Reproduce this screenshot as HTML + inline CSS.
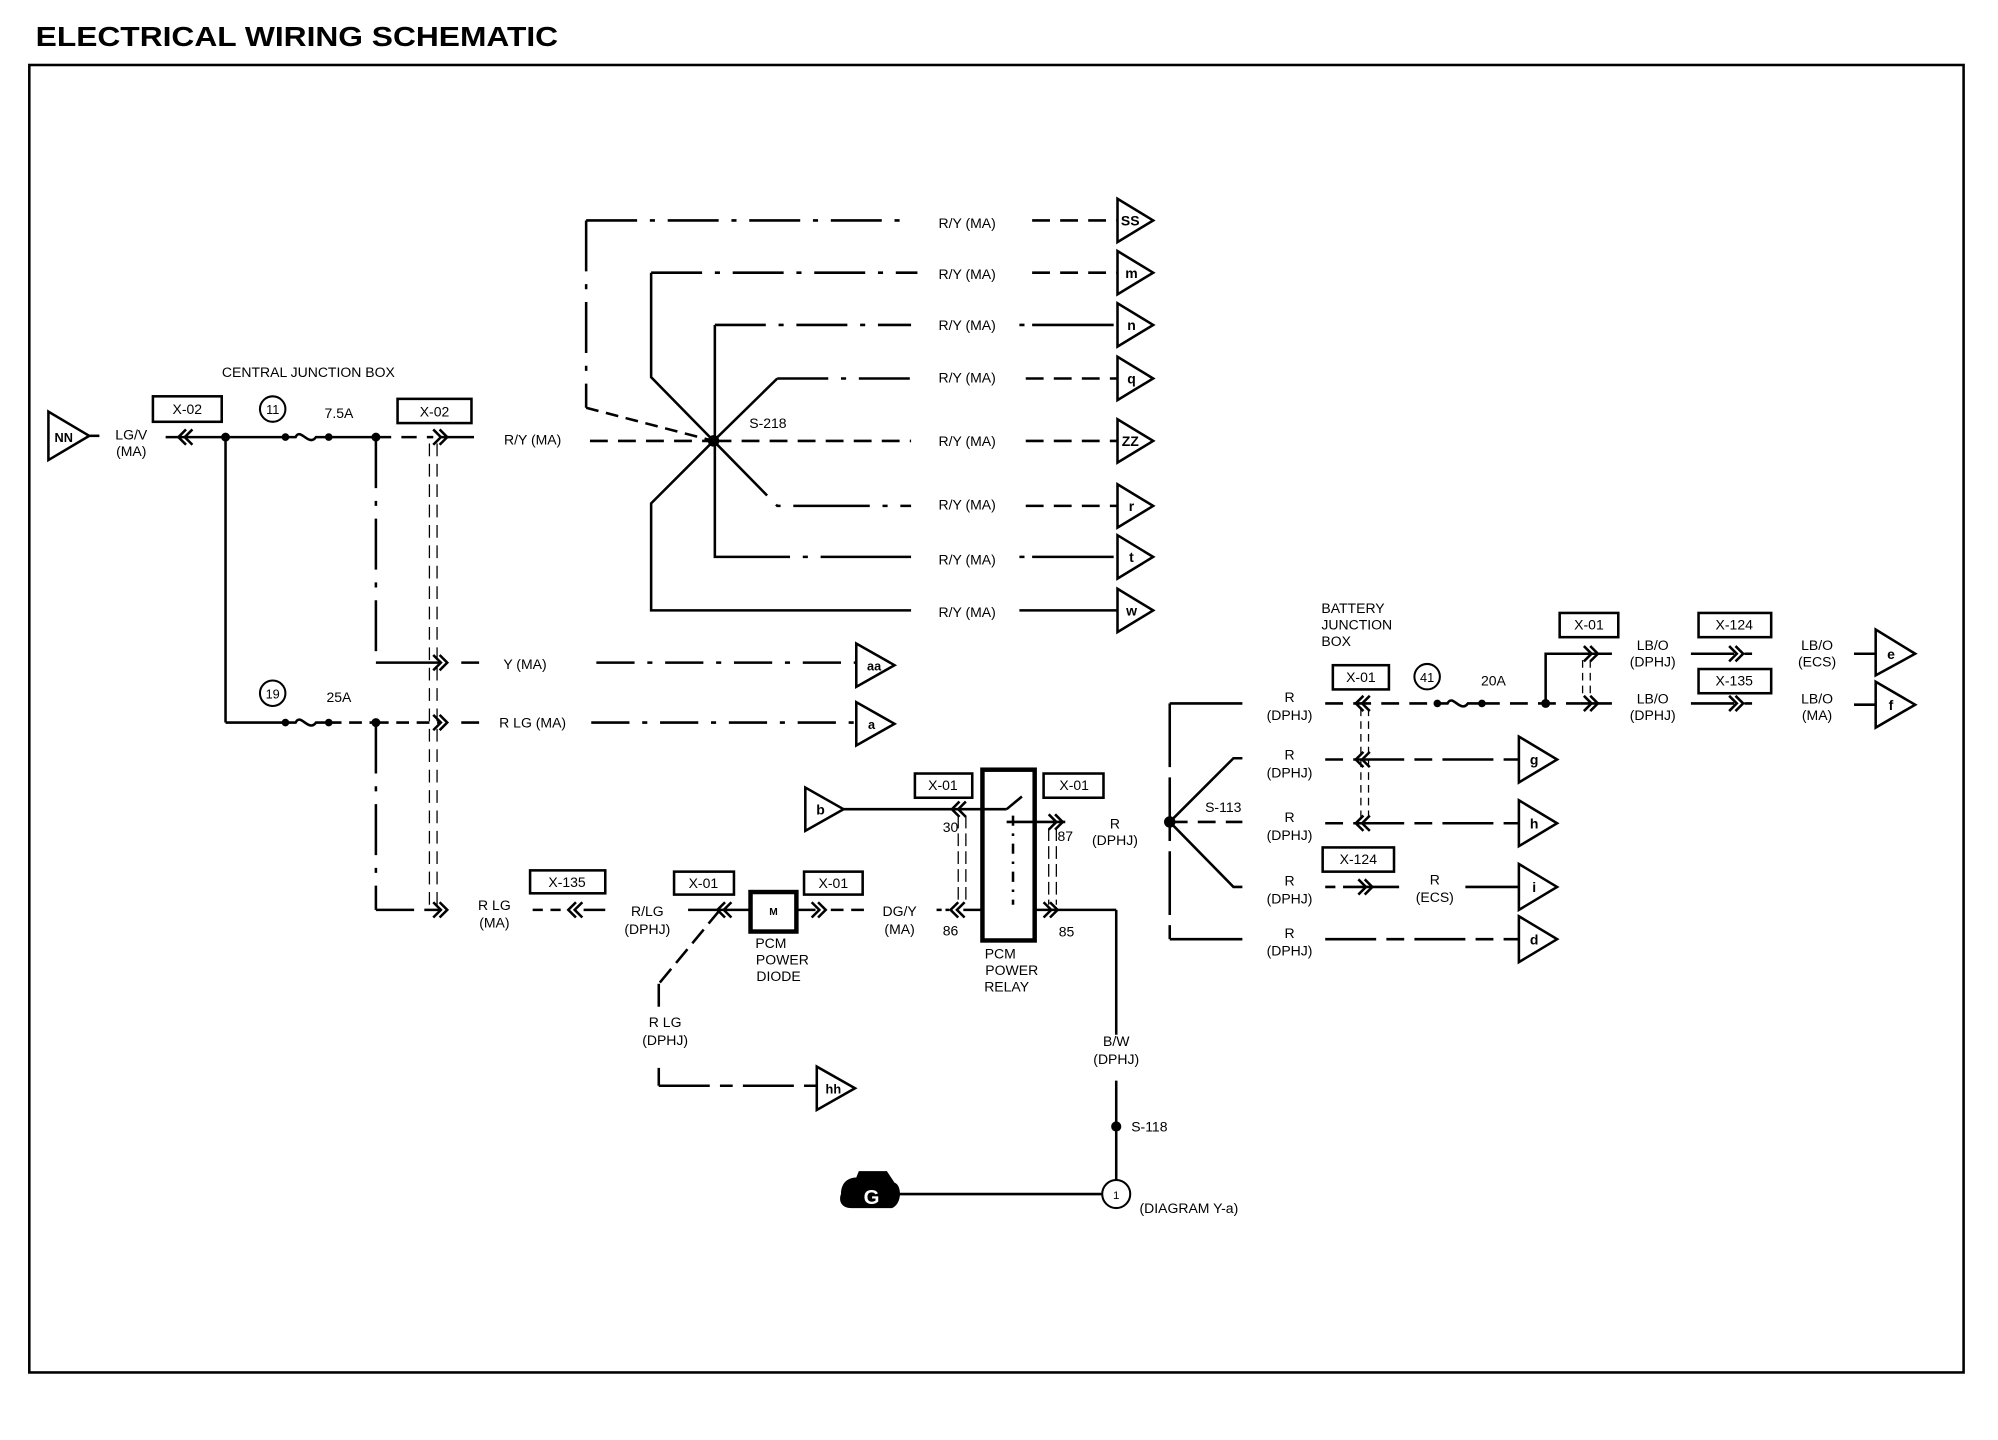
<!DOCTYPE html>
<html><head><meta charset="utf-8"><style>
html,body{margin:0;padding:0;background:#fff;}
svg{display:block;}
text{font-family:"Liberation Sans",Arial,sans-serif;font-size:11px;fill:#000;}
</style></head><body>
<svg width="1998" height="1440" viewBox="0 0 1568 1130" preserveAspectRatio="none" xmlns="http://www.w3.org/2000/svg">
<defs>
<g id="cl" fill="none" stroke="#000" stroke-width="2"><path d="M6,-6 L0,0 L6,6 M11,-6 L5,0 L11,6"/></g>
<g id="cr" fill="none" stroke="#000" stroke-width="2"><path d="M-6,-6 L0,0 L-6,6 M-11,-6 L-5,0 L-11,6"/></g>
<path id="fuse" d="M0,0 L8,0 C12,-8 18,8 24,0 L34,0" fill="none" stroke="#000" stroke-width="2"/>
</defs>
<rect x="0" y="0" width="1568" height="1130" fill="#fff"/>
<text x="28" y="36" style="font-size:22px;font-weight:bold" textLength="410" lengthAdjust="spacingAndGlyphs">ELECTRICAL WIRING SCHEMATIC</text>
<rect x="23" y="51" width="1518" height="1026" fill="none" stroke="#000" stroke-width="2"/>

<g stroke="#000" stroke-width="2" fill="none">
<!-- left -->
<path d="M38,323 L38,361 L70,342 Z" stroke-width="2"/>
<line x1="70" y1="342" x2="78" y2="342"/>
<line x1="130" y1="343" x2="224" y2="343"/>
<line x1="177" y1="343" x2="177" y2="567"/>
<line x1="177" y1="567" x2="224" y2="567"/>
<line x1="258" y1="343" x2="295" y2="343"/>
<line x1="295" y1="343" x2="340" y2="343" stroke-dasharray="12 8"/>
<line x1="346" y1="343" x2="372" y2="343"/>
<line x1="463" y1="346" x2="560" y2="346" stroke-dasharray="14 8"/>
<line x1="295" y1="343" x2="295" y2="520" stroke-dasharray="40 10 4 10"/>
<line x1="295" y1="520" x2="346" y2="520"/>
<line x1="362" y1="520" x2="376" y2="520"/>
<line x1="468" y1="520" x2="672" y2="520" stroke-dasharray="30 10 4 10"/>
<line x1="258" y1="567" x2="295" y2="567" stroke-dasharray="10 6"/>
<line x1="295" y1="567" x2="346" y2="567" stroke-dasharray="10 6"/>
<line x1="362" y1="567" x2="376" y2="567"/>
<line x1="464" y1="567" x2="672" y2="567" stroke-dasharray="30 10 4 10"/>
<line x1="295" y1="567" x2="295" y2="714" stroke-dasharray="40 10 4 10"/>
<line x1="295" y1="714" x2="346" y2="714" stroke-dasharray="30 8"/>
<line x1="337" y1="348" x2="337" y2="714" stroke-width="1" stroke-dasharray="10 6"/>
<line x1="343" y1="348" x2="343" y2="714" stroke-width="1" stroke-dasharray="10 6"/>
<path d="M672,505 L672,539 L702,522 Z"/>
<path d="M672,551 L672,585 L702,568 Z"/>
<rect x="120" y="311" width="54" height="20"/>
<rect x="312" y="313" width="58" height="19"/>
<circle cx="214" cy="321" r="10" stroke-width="1.6"/>
<circle cx="214" cy="544" r="10" stroke-width="1.6"/>
<!-- bottom left chain -->
<line x1="418" y1="714" x2="444" y2="714" stroke-dasharray="8 6"/>
<line x1="458" y1="714" x2="475" y2="714"/>
<line x1="540" y1="714" x2="589" y2="714"/>
<line x1="625" y1="714" x2="640" y2="714"/>
<line x1="652" y1="714" x2="680" y2="714" stroke-dasharray="10 6"/>
<line x1="735" y1="714" x2="745" y2="714" stroke-dasharray="4 3"/>
<line x1="756" y1="714" x2="771" y2="714"/>
<line x1="812" y1="714" x2="876" y2="714"/>
<line x1="876" y1="714" x2="876" y2="812"/>
<line x1="876" y1="848" x2="876" y2="926"/>
<line x1="705" y1="937" x2="865" y2="937"/>
<circle cx="876" cy="937" r="11" stroke-width="1.6"/>
<rect x="416" y="683" width="59" height="18"/>
<rect x="529" y="684" width="47" height="18"/>
<rect x="631" y="684" width="46" height="18"/>
<rect x="589" y="700" width="36" height="31" stroke-width="3.5"/>
<line x1="565" y1="714" x2="517" y2="772" stroke-dasharray="14 6"/>
<line x1="517" y1="772" x2="517" y2="790"/>
<line x1="517" y1="838" x2="517" y2="852"/>
<line x1="517" y1="852" x2="641" y2="852" stroke-dasharray="40 8 10 8"/>
<path d="M641,837 L641,871 L671,854 Z"/>
<!-- relay -->
<path d="M632,618 L632,652 L662,635 Z"/>
<line x1="662" y1="635" x2="790" y2="635"/>
<line x1="790" y1="635" x2="802" y2="625"/>
<line x1="790" y1="645" x2="836" y2="645"/>
<line x1="795" y1="640" x2="795" y2="710" stroke-dasharray="8 6 2 6"/>
<rect x="771" y="604" width="41" height="134" stroke-width="3.5"/>
<rect x="718" y="607" width="45" height="19"/>
<rect x="819" y="607" width="47" height="19"/>
<line x1="752" y1="640" x2="752" y2="710" stroke-width="1" stroke-dasharray="10 4"/>
<line x1="758" y1="640" x2="758" y2="710" stroke-width="1" stroke-dasharray="10 4"/>
<line x1="823" y1="650" x2="823" y2="710" stroke-width="1" stroke-dasharray="10 4"/>
<line x1="829" y1="650" x2="829" y2="710" stroke-width="1" stroke-dasharray="10 4"/>
<!-- S-218 star -->
<line x1="460" y1="173" x2="715" y2="173" stroke-dasharray="40 10 4 10"/>
<line x1="810" y1="173" x2="877" y2="173" stroke-dasharray="14 8"/>
<line x1="460" y1="173" x2="460" y2="320" stroke-dasharray="40 10 4 10"/>
<line x1="460" y1="320" x2="560" y2="346" stroke-dasharray="10 6"/>
<line x1="511" y1="214" x2="720" y2="214" stroke-dasharray="40 10 4 10"/>
<line x1="810" y1="214" x2="877" y2="214" stroke-dasharray="14 8"/>
<polyline points="511,214 511,296 560,346"/>
<line x1="561" y1="255" x2="715" y2="255" stroke-dasharray="40 10 4 10"/>
<line x1="800" y1="255" x2="877" y2="255" stroke-dasharray="4 6 60 0"/>
<line x1="561" y1="255" x2="561" y2="346"/>
<line x1="610" y1="297" x2="715" y2="297" stroke-dasharray="40 10 4 10"/>
<line x1="805" y1="297" x2="877" y2="297" stroke-dasharray="14 8"/>
<polyline points="560,346 610,297"/>
<line x1="560" y1="346" x2="715" y2="346" stroke-dasharray="14 8"/>
<line x1="805" y1="346" x2="877" y2="346" stroke-dasharray="14 8"/>
<polyline points="560,346 610,397 715,397" stroke-dasharray="60 10 4 10"/>
<line x1="805" y1="397" x2="877" y2="397" stroke-dasharray="14 8"/>
<polyline points="561,346 561,437 715,437" stroke-dasharray="150 10 4 10"/>
<line x1="800" y1="437" x2="877" y2="437" stroke-dasharray="4 6 60 0"/>
<polyline points="560,346 511,395 511,479 715,479"/>
<line x1="800" y1="479" x2="877" y2="479"/>
<path d="M877,156 L877,190 L905,173 Z"/>
<path d="M877,197 L877,231 L905,214 Z"/>
<path d="M877,238 L877,272 L905,255 Z"/>
<path d="M877,280 L877,314 L905,297 Z"/>
<path d="M877,329 L877,363 L905,346 Z"/>
<path d="M877,380 L877,414 L905,397 Z"/>
<path d="M877,420 L877,454 L905,437 Z"/>
<path d="M877,462 L877,496 L905,479 Z"/>
<!-- S-113 -->
<line x1="918" y1="552" x2="918" y2="737" stroke-dasharray="50 8"/>
<line x1="918" y1="552" x2="975" y2="552"/>
<polyline points="918,645 968,595 975,595"/>
<line x1="918" y1="645" x2="975" y2="645" stroke-dasharray="14 8"/>
<polyline points="918,645 968,696 975,696"/>
<line x1="918" y1="737" x2="975" y2="737"/>
<line x1="1040" y1="552" x2="1128" y2="552" stroke-dasharray="14 8"/>
<line x1="1163" y1="552" x2="1240" y2="552" stroke-dasharray="14 8"/>
<polyline points="1213,552 1213,513 1240,513"/>
<line x1="1240" y1="513" x2="1265" y2="513"/>
<line x1="1240" y1="552" x2="1265" y2="552"/>
<line x1="1242" y1="518" x2="1242" y2="548" stroke-width="1" stroke-dasharray="6 4"/>
<line x1="1248" y1="518" x2="1248" y2="548" stroke-width="1" stroke-dasharray="6 4"/>
<line x1="1068" y1="556" x2="1068" y2="642" stroke-width="1" stroke-dasharray="6 4"/>
<line x1="1074" y1="556" x2="1074" y2="642" stroke-width="1" stroke-dasharray="6 4"/>
<rect x="1046" y="522" width="44" height="19"/>
<circle cx="1120" cy="531" r="10" stroke-width="1.6"/>
<rect x="1224" y="481" width="46" height="19"/>
<line x1="1327" y1="513" x2="1375" y2="513" stroke-dasharray="34 8"/>
<line x1="1327" y1="552" x2="1375" y2="552" stroke-dasharray="34 8"/>
<rect x="1333" y="481" width="57" height="19"/>
<rect x="1333" y="525" width="57" height="19"/>
<line x1="1455" y1="513" x2="1472" y2="513"/>
<line x1="1455" y1="553" x2="1472" y2="553"/>
<path d="M1472,494 L1472,530 L1503,513 Z"/>
<path d="M1472,535 L1472,571 L1503,553 Z"/>
<line x1="1040" y1="596" x2="1192" y2="596" stroke-dasharray="14 8 40 8"/>
<line x1="1040" y1="646" x2="1192" y2="646" stroke-dasharray="14 8 40 8"/>
<line x1="1040" y1="696" x2="1098" y2="696" stroke-dasharray="8 6 40 0"/>
<line x1="1150" y1="696" x2="1192" y2="696"/>
<rect x="1038" y="665" width="56" height="19"/>
<line x1="1040" y1="737" x2="1192" y2="737" stroke-dasharray="40 8 14 8"/>
<path d="M1192,578 L1192,614 L1222,596 Z"/>
<path d="M1192,628 L1192,664 L1222,646 Z"/>
<path d="M1192,678 L1192,714 L1222,696 Z"/>
<path d="M1192,719 L1192,755 L1222,737 Z"/>
</g>

<!-- fuses -->
<use href="#fuse" x="224" y="343"/><use href="#fuse" x="224" y="567"/><use href="#fuse" x="1128" y="552"/>
<!-- chevrons -->
<use href="#cl" x="140" y="343"/>
<use href="#cr" x="351" y="343"/><use href="#cr" x="351" y="520"/><use href="#cr" x="351" y="567"/><use href="#cr" x="351" y="714"/>
<use href="#cl" x="446" y="714"/><use href="#cl" x="563" y="714"/><use href="#cr" x="648" y="714"/>
<use href="#cl" x="746" y="714"/><use href="#cr" x="830" y="714"/>
<use href="#cl" x="747" y="635"/><use href="#cr" x="834" y="645"/>
<use href="#cl" x="1064" y="552"/><use href="#cl" x="1064" y="596"/><use href="#cl" x="1064" y="646"/><use href="#cr" x="1077" y="696"/>
<use href="#cr" x="1254" y="513"/><use href="#cr" x="1254" y="552"/>
<use href="#cr" x="1368" y="513"/><use href="#cr" x="1368" y="552"/>
<!-- dots -->
<g fill="#000">
<circle cx="177" cy="343" r="3.5"/><circle cx="224" cy="343" r="3"/><circle cx="258" cy="343" r="3"/><circle cx="295" cy="343" r="3.5"/>
<circle cx="224" cy="567" r="3"/><circle cx="258" cy="567" r="3"/><circle cx="295" cy="567" r="3.5"/>
<circle cx="560" cy="346" r="4.5"/><circle cx="918" cy="645" r="4.5"/><circle cx="876" cy="884" r="4"/>
<circle cx="1128" cy="552" r="3"/><circle cx="1163" cy="552" r="3"/><circle cx="1213" cy="552" r="3.5"/>
<path d="M660,937 C660,926 668,924 672,924 L674,919 L696,919 L702,928 C708,930 708,945 700,948 L668,948 C660,948 658,942 660,937 Z"/>
</g>
<text x="684" y="945" text-anchor="middle" style="font-size:16px;font-weight:bold;fill:#fff">G</text>

<!-- labels -->
<g text-anchor="middle">
<text x="242" y="296">CENTRAL JUNCTION BOX</text>
<text x="50" y="347" style="font-weight:bold;font-size:10px">NN</text>
<text x="103" y="345">LG/V</text><text x="103" y="358">(MA)</text>
<text x="147" y="325">X-02</text><text x="341" y="327">X-02</text>
<text x="214" y="325" style="font-size:10px">11</text><text x="214" y="548" style="font-size:10px">19</text>
<text x="266" y="328">7.5A</text><text x="266" y="551">25A</text>
<text x="418" y="349">R/Y (MA)</text>
<text x="412" y="525">Y (MA)</text>
<text x="418" y="571">R LG (MA)</text>
<text x="686" y="526" style="font-weight:bold;font-size:10px">aa</text>
<text x="684" y="572" style="font-weight:bold;font-size:10px">a</text>
<text x="388" y="714">R LG</text><text x="388" y="728">(MA)</text>
<text x="445" y="696">X-135</text>
<text x="508" y="719">R/LG</text><text x="508" y="733">(DPHJ)</text>
<text x="552" y="697">X-01</text><text x="654" y="697">X-01</text>
<text x="607" y="718" style="font-size:8px;font-weight:bold">M</text>
<text x="605" y="744">PCM</text><text x="614" y="757">POWER</text><text x="611" y="770">DIODE</text>
<text x="706" y="719">DG/Y</text><text x="706" y="733">(MA)</text>
<text x="746" y="734">86</text><text x="837" y="735">85</text>
<text x="785" y="752">PCM</text><text x="794" y="765">POWER</text><text x="790" y="778">RELAY</text>
<text x="522" y="806">R LG</text><text x="522" y="820">(DPHJ)</text>
<text x="654" y="858" style="font-weight:bold;font-size:10px">hh</text>
<text x="644" y="639" style="font-weight:bold;font-size:11px">b</text>
<text x="740" y="620">X-01</text><text x="843" y="620">X-01</text>
<text x="746" y="653">30</text><text x="836" y="660">87</text>
<text x="875" y="650">R</text><text x="875" y="663">(DPHJ)</text>
<text x="876" y="821">B/W</text><text x="876" y="835">(DPHJ)</text>
<text x="876" y="941" style="font-size:9px">1</text>
<text x="588" y="336" text-anchor="start">S-218</text>
<text x="902" y="888" text-anchor="middle">S-118</text>
<text x="933" y="952">(DIAGRAM Y-a)</text>
<text x="759" y="179">R/Y (MA)</text><text x="759" y="219">R/Y (MA)</text><text x="759" y="259">R/Y (MA)</text>
<text x="759" y="300">R/Y (MA)</text><text x="759" y="350">R/Y (MA)</text><text x="759" y="400">R/Y (MA)</text>
<text x="759" y="443">R/Y (MA)</text><text x="759" y="484">R/Y (MA)</text>
<g style="font-weight:bold;font-size:10px">
<text x="887" y="177">SS</text><text x="888" y="218">m</text><text x="888" y="259">n</text><text x="888" y="301">q</text>
<text x="887" y="350">ZZ</text><text x="888" y="401">r</text><text x="888" y="441">t</text><text x="888" y="483">w</text>
<text x="1484" y="517">e</text><text x="1484" y="557">f</text>
<text x="1204" y="600">g</text><text x="1204" y="650">h</text><text x="1204" y="700">i</text><text x="1204" y="741">d</text>
</g>
<text x="960" y="637">S-113</text>
<text x="1012" y="551">R</text><text x="1012" y="565">(DPHJ)</text>
<text x="1012" y="596">R</text><text x="1012" y="610">(DPHJ)</text>
<text x="1012" y="645">R</text><text x="1012" y="659">(DPHJ)</text>
<text x="1012" y="695">R</text><text x="1012" y="709">(DPHJ)</text>
<text x="1012" y="736">R</text><text x="1012" y="750">(DPHJ)</text>
<text x="1068" y="535">X-01</text><text x="1120" y="535" style="font-size:10px">41</text><text x="1172" y="538">20A</text>
<text x="1066" y="678">X-124</text>
<text x="1126" y="694">R</text><text x="1126" y="708">(ECS)</text>
<text x="1247" y="494">X-01</text>
<text x="1361" y="494">X-124</text><text x="1361" y="538">X-135</text>
<text x="1297" y="510">LB/O</text><text x="1297" y="523">(DPHJ)</text>
<text x="1297" y="552">LB/O</text><text x="1297" y="565">(DPHJ)</text>
<text x="1426" y="510">LB/O</text><text x="1426" y="523">(ECS)</text>
<text x="1426" y="552">LB/O</text><text x="1426" y="565">(MA)</text>
</g>
<text x="1037" y="481">BATTERY</text><text x="1037" y="494">JUNCTION</text><text x="1037" y="507">BOX</text>
</svg>
</body></html>
